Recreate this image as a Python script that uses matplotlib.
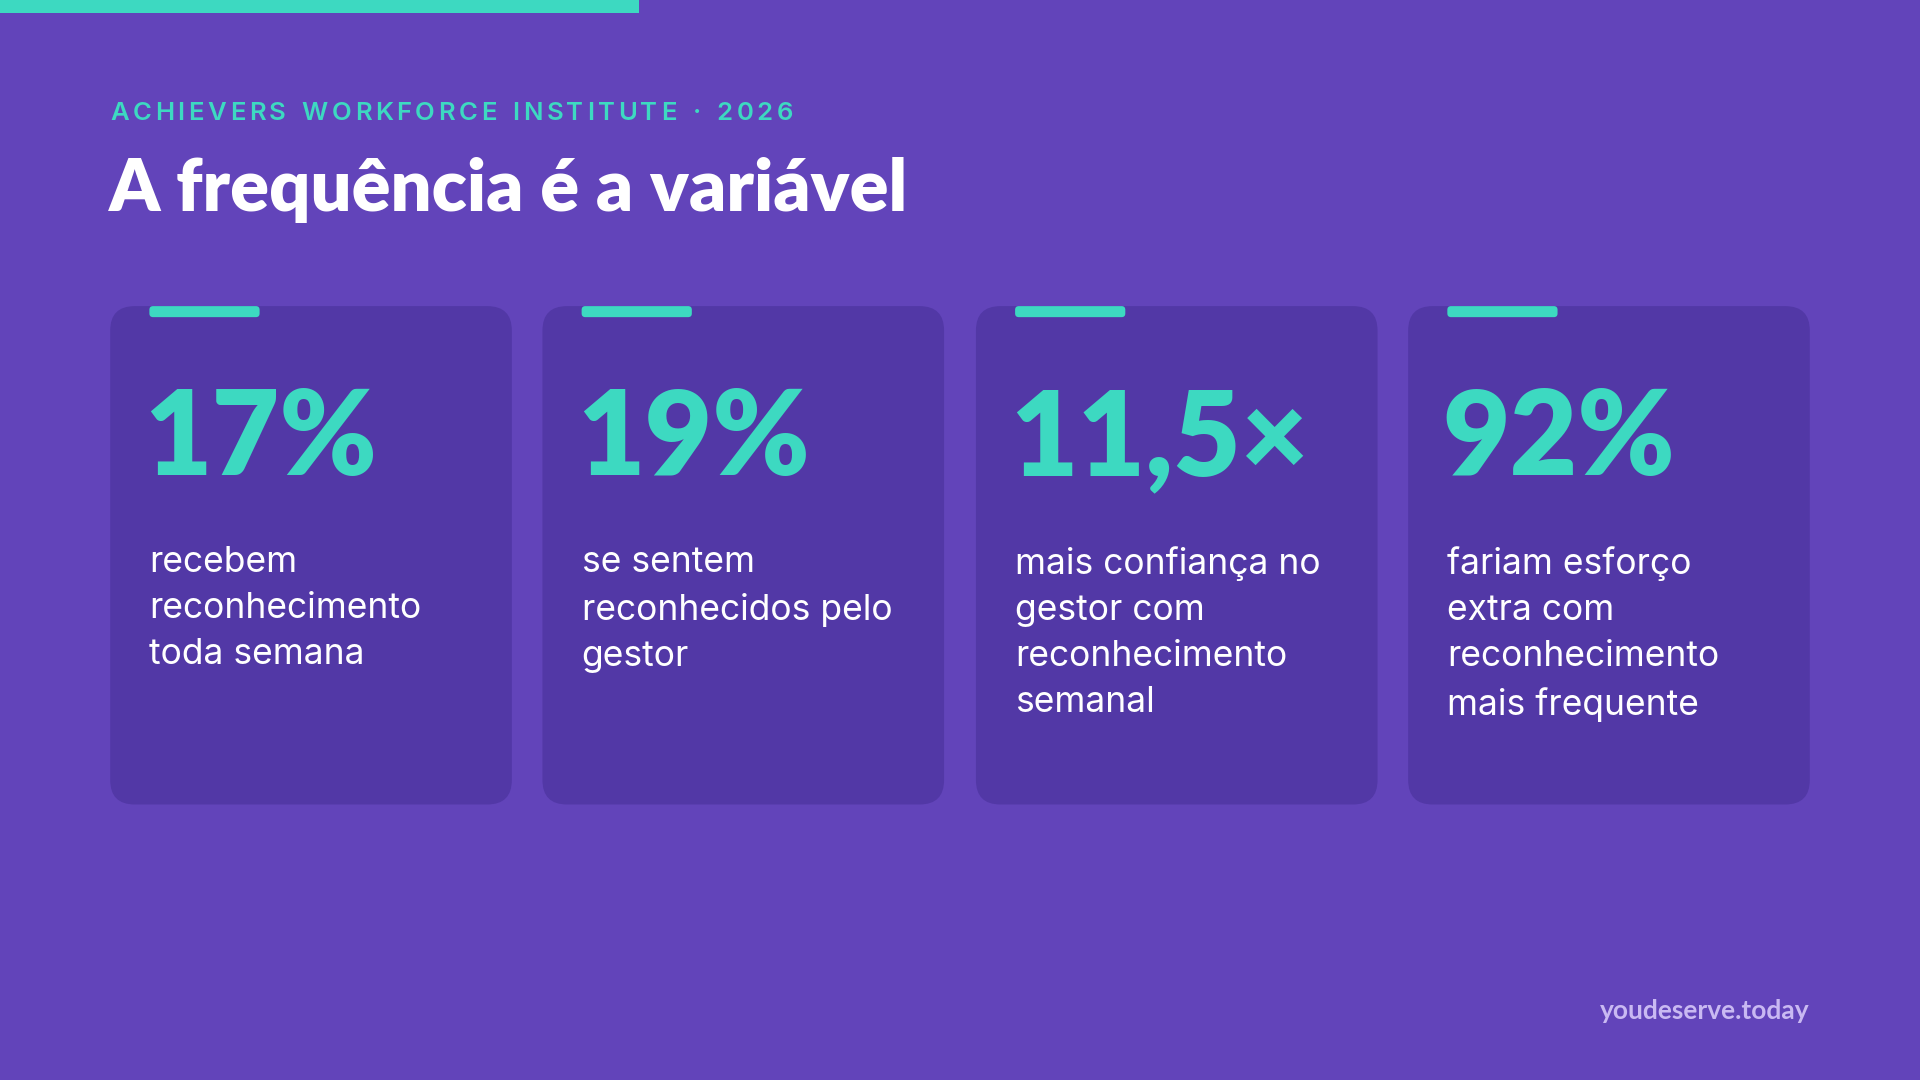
import matplotlib
matplotlib.use("Agg")
import matplotlib.pyplot as plt
from matplotlib.patches import FancyBboxPatch, Rectangle

# data
big_values = ["17%", "19%", "11,5×", "92%"]
descriptions = [
    "recebem\nreconhecimento\ntoda semana",
    "se sentem\nreconhecidos pelo\ngestor",
    "mais confiança no\ngestor com\nreconhecimento\nsemanal",
    "fariam esforço\nextra com\nreconhecimento\nmais frequente",
]
kicker = "ACHIEVERS WORKFORCE INSTITUTE · 2026"
title = "A frequência é a variável"
footer = "youdeserve.today"

BG = "#6244BA"
CARD = "#5238A6"
TEAL = "#3DD9C1"
W, H = 1568, 882

fig = plt.figure(figsize=(19.2, 10.8), dpi=100, facecolor=BG)
ax = fig.add_axes([0, 0, 1, 1])
ax.set_xlim(0, W)
ax.set_ylim(H, 0)
ax.axis("off")
ax.set_facecolor(BG)
renderer = fig.canvas.get_renderer()
px = W / 1920.0  # data units per pixel


def tracked_text(x, y, s, spacing, **kw):
    """Draw a string one glyph at a time with extra letter spacing."""
    for ch in s:
        t = ax.text(x, y, ch, **kw)
        w = t.get_window_extent(renderer).width * px
        if ch == " ":
            w = kw["fontsize"] * 0.35 * 100 / 72 * px
        x += w + spacing


# top accent bar
ax.add_patch(Rectangle((0, 0), 522, 11, color=TEAL, lw=0))

tracked_text(90, 93, kicker, 2.9, color=TEAL, fontsize=18.5, fontweight="semibold",
             family="Inter", va="center", ha="left")
ax.text(89, 155, title, color="white", fontsize=52, fontweight="heavy",
        family="Lato", va="center", ha="left")

card_x = [90, 443, 797, 1150]
card_w, card_top, card_bot = 328, 250, 657
for x, val, desc in zip(card_x, big_values, descriptions):
    ax.add_patch(FancyBboxPatch((x, card_top), card_w, card_bot - card_top,
                                boxstyle="round,pad=0,rounding_size=20",
                                fc=CARD, ec="none"))
    ax.add_patch(FancyBboxPatch((x + 32, card_top), 90, 9,
                                boxstyle="round,pad=0,rounding_size=3",
                                fc=TEAL, ec="none"))
    ax.text(x + 28, 360, val, color=TEAL, fontsize=84, fontweight="heavy",
            family="Lato", va="center", ha="left")
    ax.text(x + 32, 446, desc, color="white", fontsize=25.5, family="Inter",
            va="top", ha="left", linespacing=1.5)

ax.text(1478, 826, footer, color="#C9B9F2", fontsize=19, fontweight="bold",
        family="Lato", va="center", ha="right")

fig.savefig("out.png", dpi=100, facecolor=BG)
